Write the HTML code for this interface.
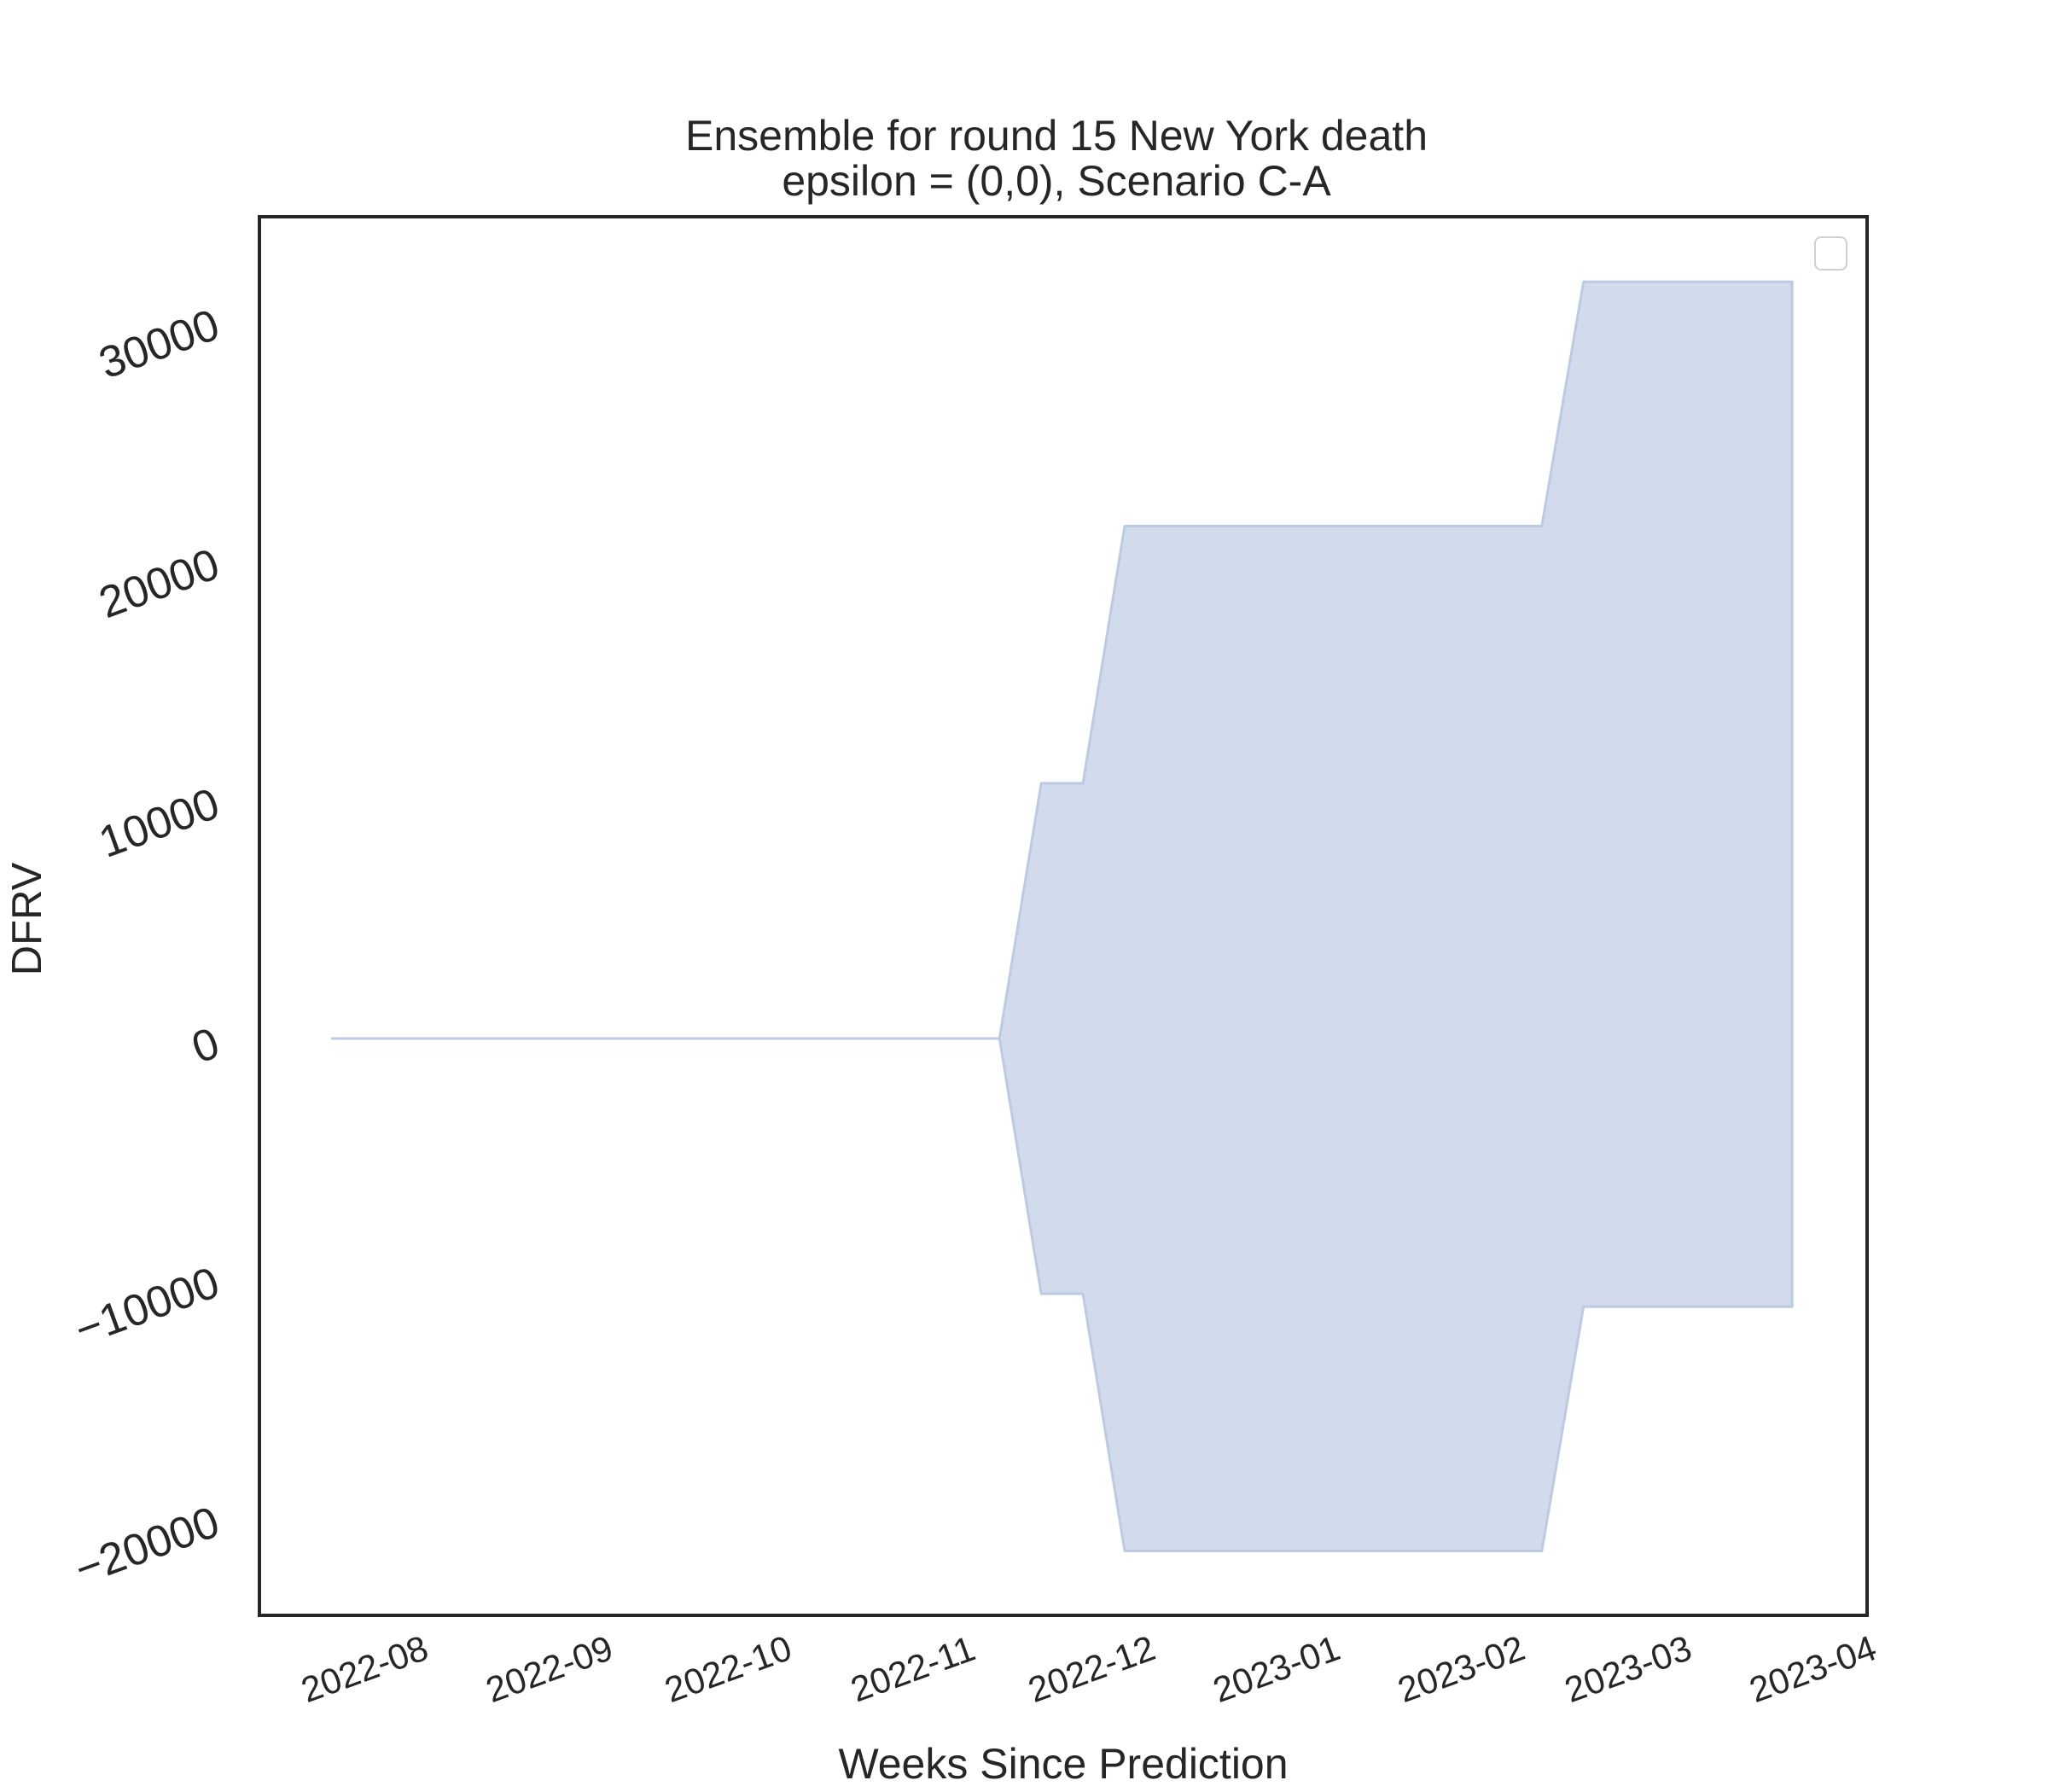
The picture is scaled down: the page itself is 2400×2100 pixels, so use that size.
<!DOCTYPE html>
<html><head><meta charset="utf-8"><style>
html,body{margin:0;padding:0;background:#fff}
svg{display:block;font-family:"Liberation Sans",sans-serif}
</style></head><body>
<svg id="chart" width="2400" height="2100" viewBox="0 0 2400 2100">
<text x="1238" y="176" font-size="50" text-anchor="middle" fill="#262626">Ensemble for round 15 New York death</text>
<text x="1238" y="229" font-size="50" text-anchor="middle" fill="#262626">epsilon = (0,0), Scenario C-A</text>
<g id="plot"></g>
<rect x="304" y="254" width="1884" height="1639" fill="none" stroke="#262626" stroke-width="4"/>
<rect x="2127" y="278" width="37" height="38" rx="7" fill="#fff" stroke="#d0d0d0" stroke-width="2"/>
<g id="yticks"></g><g id="xticks"></g>
<text x="1246" y="2084" font-size="50" text-anchor="middle" fill="#262626">Weeks Since Prediction</text>
<text transform="translate(48,1077) rotate(-90)" font-size="49" text-anchor="middle" fill="#262626">DFRV</text>
</svg>
<script>
const weeks = [0,1,2,3,4,5,6,7,8,9,10,11,12,13,14,15,16,17,18,19,20,21,22,23,24,25,26,27,28,29,30,31,32,33,34,35];
const upper = [0,0,0,0,0,0,0,0,0,0,0,0,0,0,0,0,0,10660,10660,21400,21400,21400,21400,21400,21400,21400,21400,21400,21400,21400,31600,31600,31600,31600,31600,31600];
const lower = [0,0,0,0,0,0,0,0,0,0,0,0,0,0,0,0,0,-10660,-10660,-21400,-21400,-21400,-21400,-21400,-21400,-21400,-21400,-21400,-21400,-21400,-11200,-11200,-11200,-11200,-11200,-11200];
const yTicks = [-20000,-10000,0,10000,20000,30000];
const xTickLabels = ["2022-08","2022-09","2022-10","2022-11","2022-12","2023-01","2023-02","2023-03","2023-04"];
const xTickDays = [0,31,61,92,122,153,184,212,243];
const startDayOffset = -6;

const NS="http://www.w3.org/2000/svg";
function xDay(d){return 431 + d*6.984;}
function xWeek(w){return xDay(startDayOffset + w*7);}
function y(v){return 1217 - v*0.02806;}

const plot=document.getElementById('plot');
let d="";
weeks.forEach((w,i)=>{d+=(i?"L":"M")+xWeek(w).toFixed(1)+","+y(upper[i]).toFixed(1);});
for(let i=weeks.length-1;i>=0;i--){d+="L"+xWeek(weeks[i]).toFixed(1)+","+y(lower[i]).toFixed(1);}
d+="Z";
const area=document.createElementNS(NS,'path');
area.setAttribute('d',d);area.setAttribute('fill','#d1dbeb');area.setAttribute('stroke','#bccae3');area.setAttribute('stroke-width','3');area.setAttribute('stroke-linejoin','round');


plot.appendChild(area);

const yt=document.getElementById('yticks');
yTicks.forEach(v=>{
  const t=document.createElementNS(NS,'text');
  const lab=(v<0?"\u2212"+Math.abs(v):String(v));
  t.setAttribute('transform','translate(254,'+(y(v)+2).toFixed(1)+') rotate(-20)');
  t.setAttribute('text-anchor','end');t.setAttribute('dy','0.36em');t.setAttribute('font-size','52');t.setAttribute('fill','#262626');
  t.textContent=lab;
  
  
  yt.appendChild(t);
});
const xt=document.getElementById('xticks');
xTickLabels.forEach((lab,i)=>{
  const t=document.createElementNS(NS,'text');
  const xx=xDay(xTickDays[i])-4;
  t.setAttribute('transform','translate('+xx.toFixed(1)+',1955) rotate(-20)');
  t.setAttribute('text-anchor','middle');t.setAttribute('dy','0.36em');t.setAttribute('font-size','42');t.setAttribute('fill','#262626');
  t.textContent=lab;
  
  
  xt.appendChild(t);
});
</script>
</body></html>
